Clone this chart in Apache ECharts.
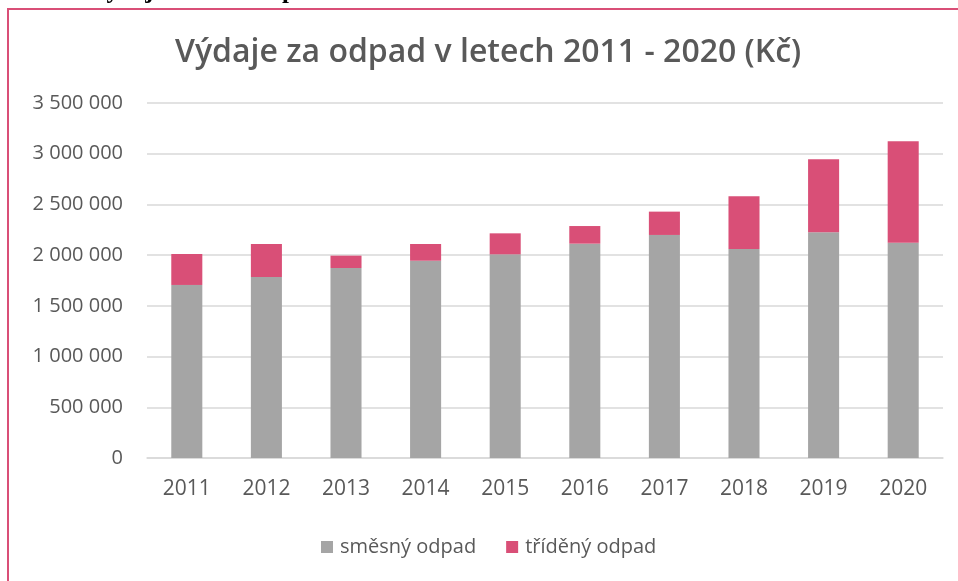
<!DOCTYPE html>
<html>
<head>
<meta charset="utf-8">
<script src="https://cdn.jsdelivr.net/npm/echarts@6/dist/echarts.min.js"></script>
<style>
  html, body { margin: 0; padding: 0; background: #fff; }
  #chart { width: 958px; height: 581px; }
</style>
</head>
<body>
<div id="chart"></div>
<script>
// data (Kč)
var years = ['2011', '2012', '2013', '2014', '2015', '2016', '2017', '2018', '2019', '2020'];
var smesny = [1706000, 1784000, 1873000, 1945000, 2008000, 2113000, 2199000, 2061000, 2225000, 2123000];
var trideny = [305000, 326000, 122000, 165000, 207000, 174000, 230000, 519000, 720000, 999000];

function fmt(v) {
  return String(v).replace(/\B(?=(\d{3})+(?!\d))/g, ' ');
}

var myChart = echarts.init(document.getElementById('chart'));
var option = {
  animation: false,
  textStyle: { fontFamily: 'Open Sans' },
  title: {
    text: 'Výdaje za odpad v letech 2011 - 2020 (Kč)',
    left: 170,
    top: 32,
    textStyle: { fontSize: 32, fontWeight: 600, color: '#595959', fontFamily: 'Open Sans' }
  },
  graphic: [
    {
      type: 'text',
      left: 12,
      top: -21,
      style: { text: 'Graf 3 Výdaje obce za odpad', font: 'bold 25px "Liberation Serif"', fill: '#000' }
    },
    {
      type: 'rect',
      shape: { x: 8, y: 9, width: 1000, height: 700 },
      style: { fill: 'none', stroke: '#d94f77', lineWidth: 2 }
    }
  ],
  legend: {
    bottom: 19,
    left: 316,
    itemWidth: 12,
    itemHeight: 12,
    itemGap: 30,
    icon: 'rect',
    textStyle: { fontSize: 20, color: '#595959', padding: [0, 0, 0, 2] },
    data: ['směsný odpad', 'tříděný odpad']
  },
  grid: { left: 147, right: 15, top: 103, bottom: 123 },
  xAxis: {
    type: 'category',
    data: years,
    axisLine: { lineStyle: { color: '#d9d9d9', width: 1.5 } },
    axisTick: { show: false },
    axisLabel: { fontSize: 21, color: '#595959', margin: 21 }
  },
  yAxis: {
    type: 'value',
    min: 0,
    max: 3500000,
    interval: 500000,
    axisLine: { show: false },
    axisTick: { show: false },
    splitLine: { lineStyle: { color: '#d9d9d9', width: 1.5 } },
    axisLabel: { fontSize: 20, color: '#595959', margin: 24, formatter: fmt }
  },
  series: [
    {
      name: 'směsný odpad',
      type: 'bar',
      stack: 'total',
      barWidth: '39%',
      itemStyle: { color: '#a5a5a5' },
      data: smesny
    },
    {
      name: 'tříděný odpad',
      type: 'bar',
      stack: 'total',
      barWidth: '39%',
      itemStyle: { color: '#d94f77' },
      data: trideny
    }
  ]
};
myChart.setOption(option);
</script>
</body>
</html>
